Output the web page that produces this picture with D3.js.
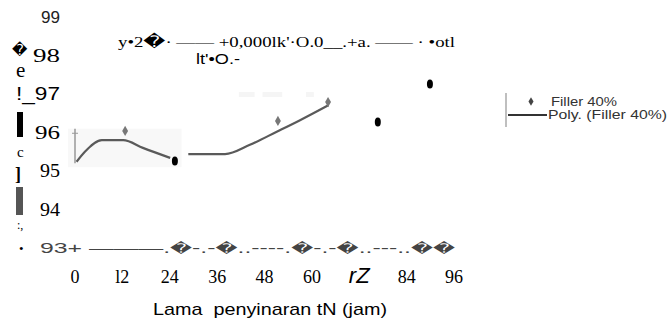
<!DOCTYPE html>
<html>
<head>
<meta charset="utf-8">
<script src="https://cdn.jsdelivr.net/npm/d3@7"></script>
<style>
  body { margin: 0; background: #fff; }
  svg { display: block; }
  .serif { font-family: "Liberation Serif", "DejaVu Serif", serif; }
  .sans { font-family: "Liberation Sans", Arial, sans-serif; }
  .glyph { font-family: "DejaVu Sans", sans-serif; }
</style>
</head>
<body>
<div id="chart"></div>
<script>
const width = 671, height = 326;

// x ticks (hours) and their labels as they appear
const xTicks = [0, 12, 24, 36, 48, 60, 72, 84, 96];
const xTickLabels = ['0', 'l2', '24', '36', '48', '60', 'rZ', '84', '96'];
const yTicks = [99, 98, 97, 96, 95, 94];
const yTickLabels = ['99', '98', '!_97', '96', '95', '94'];
const yTickWidths = [19, 27, 44, 25, 20, 20];

// observed points
const dotX = [25.3, 76.7, 89.9];
const dotY = [95.26, 96.27, 97.26];
const diamondX = [12.7, 51.4, 64.1];
const diamondY = [96.04, 96.3, 96.79];

// polynomial trend, two visible pieces
const poly1X = [0.4, 2.5, 6.8, 12.2, 17.2, 24.1];
const poly1Y = [95.24, 95.5, 95.8, 95.8, 95.6, 95.34];
const poly2X = [28.7, 38, 44.3, 51.1, 57, 64.2];
const poly2Y = [95.44, 95.44, 95.68, 96.02, 96.32, 96.71];

// text pieces; '#' marks a replacement-character glyph
const titleParts = ["y\u20222", "#", "\u00B7 \u2014\u2014 +0,000lk'\u00B7O.0__.+a. \u2014\u2014 \u00B7 \u2022otl"];
const titleLine2 = "lt'\u2022O.-";
const baseParts = ["93+ \u2014\u2014\u2014.", "#", "-.-", "#", "..----.", "#", "-.-", "#", "..---..", "#", "#"];
const legendLabels = ['Filler 40%', 'Poly. (Filler 40%)'];
const xTitle = 'Lama\u00A0\u00A0penyinaran tN (jam)';

const x = d3.scaleLinear().domain([0, 96]).range([75, 454]);
const y = d3.scaleLinear().domain([93, 99]).range([248, 17]);

const svg = d3.select('#chart').append('svg')
  .attr('width', width)
  .attr('height', height);

// faint leftover of the original plot background
svg.append('rect')
  .attr('x', x(-1.8)).attr('y', y(96.1))
  .attr('width', x(27) - x(-1.8)).attr('height', y(95.1) - y(96.1))
  .attr('fill', '#f8f8f8');
[[41.5, 45.5], [47.5, 52.5], [58.5, 60.5]].forEach(d => {
  svg.append('rect')
    .attr('x', x(d[0])).attr('y', y(97.05))
    .attr('width', x(d[1]) - x(d[0])).attr('height', 5)
    .attr('fill', '#f5f5f5');
});

// fragment of the old y axis
svg.append('line')
  .attr('x1', x(0)).attr('x2', x(0))
  .attr('y1', y(96.1)).attr('y2', y(95.2))
  .attr('stroke', '#999').attr('stroke-width', 1.5);
svg.append('line')
  .attr('x1', x(0) - 3).attr('x2', x(0) + 3)
  .attr('y1', y(95.98)).attr('y2', y(95.98))
  .attr('stroke', '#999').attr('stroke-width', 1);

// trend line
const line = d3.line().curve(d3.curveMonotoneX).x(d => x(d[0])).y(d => y(d[1]));
[[poly1X, poly1Y], [poly2X, poly2Y]].forEach(([xs, ys]) => {
  svg.append('path')
    .datum(xs.map((v, i) => [v, ys[i]]))
    .attr('d', line)
    .attr('fill', 'none')
    .attr('stroke', '#5a5a5a')
    .attr('stroke-width', 2.2);
});

// markers
svg.selectAll('.diamond')
  .data(diamondX.map((v, i) => [v, diamondY[i]]))
  .join('path')
  .attr('transform', d => `translate(${x(d[0])},${y(d[1])})`)
  .attr('d', d3.symbol(d3.symbolDiamond, 30))
  .attr('fill', '#777');

svg.selectAll('.dot')
  .data(dotX.map((v, i) => [v, dotY[i]]))
  .join('ellipse')
  .attr('cx', d => x(d[0]))
  .attr('cy', d => y(d[1]))
  .attr('rx', 3)
  .attr('ry', 4.5)
  .attr('fill', '#000');

// y tick labels
svg.selectAll('.ylab')
  .data(yTicks)
  .join('text')
  .attr('class', (d, i) => i === 0 || i === 2 ? 'sans' : 'serif')
  .attr('x', (d, i) => 60 - yTickWidths[i])
  .attr('y', d => y(d))
  .attr('dy', '0.35em')
  .attr('font-size', (d, i) => i === 0 ? 17 : 18)
  .attr('textLength', (d, i) => yTickWidths[i])
  .attr('lengthAdjust', 'spacingAndGlyphs')
  .attr('fill', (d, i) => i === 0 ? '#222' : '#000')
  .text((d, i) => yTickLabels[i]);

// garbled glyphs in the y axis title column
const yTitleBits = [
  {t: '\uFFFD', x: 12, y: 50, s: 15, c: 'glyph'},
  {t: 'e', x: 16, y: 70, s: 21, c: 'serif'},
  {t: 'c', x: 17, y: 152, s: 15, c: 'serif'},
  {t: ']', x: 15, y: 174, s: 18, c: 'serif', w: 'bold'},
  {t: ':,', x: 17, y: 225, s: 12, c: 'serif'},
  {t: '\u2022', x: 19, y: 248, s: 13, c: 'serif'}
];
svg.selectAll('.ybit')
  .data(yTitleBits)
  .join('text')
  .attr('class', d => d.c)
  .attr('x', d => d.x)
  .attr('y', d => d.y)
  .attr('dy', '0.35em')
  .attr('font-size', d => d.s)
  .attr('font-weight', d => d.w || 'normal')
  .text(d => d.t);
svg.append('rect').attr('x', 17).attr('y', 112).attr('width', 6).attr('height', 25).attr('fill', '#000');
svg.append('rect').attr('x', 16).attr('y', 187).attr('width', 7).attr('height', 28).attr('fill', '#555');

// helper: text made of plain pieces and replacement-glyph pieces
function mixedText(sel, parts, glyphSize) {
  sel.selectAll('tspan')
    .data(parts)
    .join('tspan')
    .attr('class', d => d === '#' ? 'glyph' : null)
    .attr('font-size', d => d === '#' ? glyphSize : null)
    .text(d => d === '#' ? '\uFFFD' : d);
}

// dashed baseline row with the 93 label
svg.append('text')
  .attr('class', 'sans')
  .attr('x', 40)
  .attr('y', y(93))
  .attr('dy', '0.35em')
  .attr('font-size', 15)
  .attr('fill', '#444')
  .attr('textLength', 415)
  .attr('lengthAdjust', 'spacingAndGlyphs')
  .call(mixedText, baseParts, 13);

// x tick labels
svg.selectAll('.xlab')
  .data(xTicks)
  .join('text')
  .attr('class', (d, i) => i === 6 ? 'sans' : 'serif')
  .attr('x', d => x(d))
  .attr('y', 283)
  .attr('text-anchor', 'middle')
  .attr('font-size', (d, i) => i === 6 ? 22 : 18)
  .attr('font-style', (d, i) => i === 6 ? 'italic' : 'normal')
  .text((d, i) => xTickLabels[i]);

// x axis title
svg.append('text')
  .attr('class', 'sans')
  .attr('x', 153)
  .attr('y', 315)
  .attr('font-size', 17)
  .attr('textLength', 234)
  .attr('lengthAdjust', 'spacingAndGlyphs')
  .text(xTitle);

// regression equation
svg.append('text')
  .attr('class', 'serif')
  .attr('x', 118)
  .attr('y', 46.5)
  .attr('font-size', 14)
  .attr('textLength', 337)
  .attr('lengthAdjust', 'spacingAndGlyphs')
  .call(mixedText, titleParts, 16);
svg.append('text')
  .attr('class', 'sans')
  .attr('x', 196)
  .attr('y', 64)
  .attr('font-size', 14)
  .attr('textLength', 44)
  .attr('lengthAdjust', 'spacingAndGlyphs')
  .text(titleLine2);

// legend
svg.append('line')
  .attr('x1', 506).attr('x2', 506).attr('y1', 93).attr('y2', 127)
  .attr('stroke', '#aaa').attr('stroke-width', 1.5);
svg.append('path')
  .attr('transform', 'translate(531,101.5)')
  .attr('d', d3.symbol(d3.symbolDiamond, 22))
  .attr('fill', '#444');
svg.append('line')
  .attr('x1', 508).attr('x2', 547).attr('y1', 115).attr('y2', 115)
  .attr('stroke', '#333').attr('stroke-width', 2);
svg.selectAll('.leg')
  .data(legendLabels)
  .join('text')
  .attr('class', 'sans')
  .attr('x', (d, i) => i === 0 ? 551 : 548)
  .attr('y', (d, i) => 101.5 + i * 13.5)
  .attr('dy', '0.35em')
  .attr('font-size', 12)
  .attr('textLength', (d, i) => i === 0 ? 66 : 119)
  .attr('lengthAdjust', 'spacingAndGlyphs')
  .attr('fill', '#333')
  .text(d => d);
</script>
</body>
</html>
